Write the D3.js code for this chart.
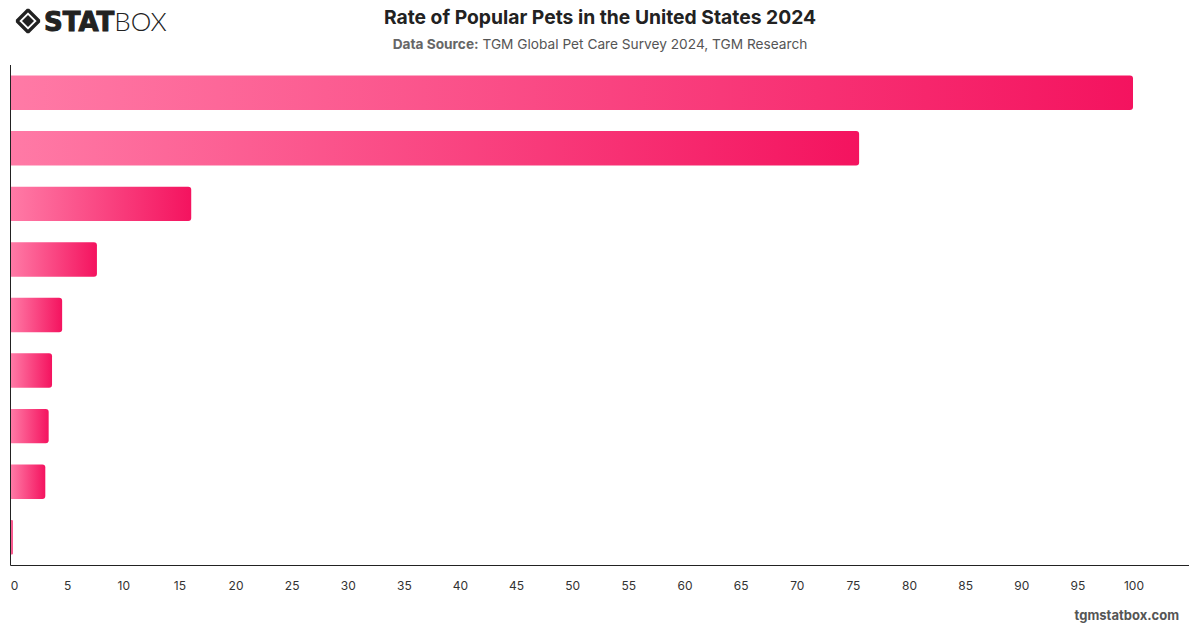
<!DOCTYPE html>
<html><head><meta charset="utf-8">
<script src="https://cdn.jsdelivr.net/npm/d3@7"></script>
<style>
body{margin:0;background:#fff;}
svg{display:block;font-family:Inter,"Helvetica Neue",Arial,sans-serif;}
</style></head>
<body><svg id="chart" width="1200" height="628"></svg>
<script>
const categories = ["Dogs","Cats","Fish","Birds","Small mammals","Reptiles","Rabbits","Horses","Other"];
const values = [100, 75.6, 16.1, 7.7, 4.6, 3.7, 3.4, 3.1, 0.2];
const xTicks = [0,5,10,15,20,25,30,35,40,45,50,55,60,65,70,75,80,85,90,95,100];
const titleText = "Rate of Popular Pets in the United States 2024";
const sourceLabel = "Data Source:";
const sourceText = " TGM Global Pet Care Survey 2024, TGM Research";

(function(){
const svg = d3.select("#chart");
const mLeft = 10.5, mRight = 1133, mTop = 65, mBottom = 565;

const defs = svg.append("defs");
const grad = defs.append("linearGradient").attr("id","barGrad")
  .attr("x1","0").attr("x2","1").attr("y1","0").attr("y2","0");
grad.append("stop").attr("offset","0%").attr("stop-color","#ff7aa6");
grad.append("stop").attr("offset","100%").attr("stop-color","#f4135f");

const x = d3.scaleLinear().domain([0,100]).range([mLeft,mRight]);
const y = d3.scaleBand().domain(categories).range([mTop,mBottom]).paddingInner(0.38).paddingOuter(0.19);

function barPath(x0,y0,w,h,r){
  r = Math.min(r, w/2, h/2);
  return `M${x0},${y0}H${x0+w-r}Q${x0+w},${y0} ${x0+w},${y0+r}V${y0+h-r}Q${x0+w},${y0+h} ${x0+w-r},${y0+h}H${x0}Z`;
}
svg.append("g").selectAll("path").data(categories).join("path")
  .attr("d",(c,i)=>barPath(x(0)+0.5, y(c), Math.max(x(values[i])-x(0)-0.5,1.5), y.bandwidth(), 3))
  .attr("fill","url(#barGrad)");

svg.append("line").attr("x1",10.5).attr("x2",10.5).attr("y1",mTop).attr("y2",mBottom+0.5)
  .attr("stroke","#222").attr("stroke-width",1);
svg.append("line").attr("x1",10.5).attr("x2",1189).attr("y1",mBottom+0.5).attr("y2",mBottom+0.5)
  .attr("stroke","#222").attr("stroke-width",1);

const xAxis = svg.append("g").attr("transform",`translate(0,${mBottom})`)
  .call(d3.axisBottom(x).tickValues(xTicks).tickSize(0).tickPadding(16).tickFormat(d3.format("d")));
xAxis.select(".domain").remove();
xAxis.selectAll("text").attr("font-size",12).attr("fill","#333").attr("font-family","Inter,Arial,sans-serif")
  .attr("dx", d => d === 0 ? 3.5 : 0.5);

svg.append("text").attr("x",600).attr("y",24).attr("text-anchor","middle")
  .attr("font-size",19.3).attr("font-weight",700).attr("fill","#222").text(titleText);
const sub = svg.append("text").attr("x",600).attr("y",49).attr("text-anchor","middle")
  .attr("font-size",13.7).attr("fill","#555");
sub.append("tspan").attr("font-weight",700).attr("fill","#666").text(sourceLabel);
sub.append("tspan").text(sourceText);

svg.append("text").attr("x",1179).attr("y",620).attr("text-anchor","end")
  .attr("font-size",13).attr("font-weight",700).attr("fill","#555").text("tgmstatbox.com");

const logo = svg.append("g");
const cx = 28, cy = 21;
logo.append("path")
  .attr("d",`M${cx},${cy-11}L${cx+11},${cy}L${cx},${cy+11}L${cx-11},${cy}Z`)
  .attr("fill","none").attr("stroke","#222").attr("stroke-width",3.2).attr("stroke-linejoin","bevel");
logo.append("path")
  .attr("d",`M${cx},${cy-6}L${cx+6},${cy}L${cx},${cy+6}L${cx-6},${cy}Z`)
  .attr("fill","#222");
const lt = logo.append("text").attr("x",44).attr("y",31).attr("font-size",26)
  .attr("font-family","'DejaVu Sans','Liberation Sans',Arial,sans-serif").attr("fill","#222");
lt.append("tspan").attr("font-weight",900).attr("stroke","#222").attr("stroke-width",1).attr("letter-spacing",0).text("STAT");
lt.append("tspan").attr("font-weight",300).attr("font-family","Lato,'Open Sans',sans-serif").attr("font-size",26).text("BOX");
})();
</script>
</body></html>
